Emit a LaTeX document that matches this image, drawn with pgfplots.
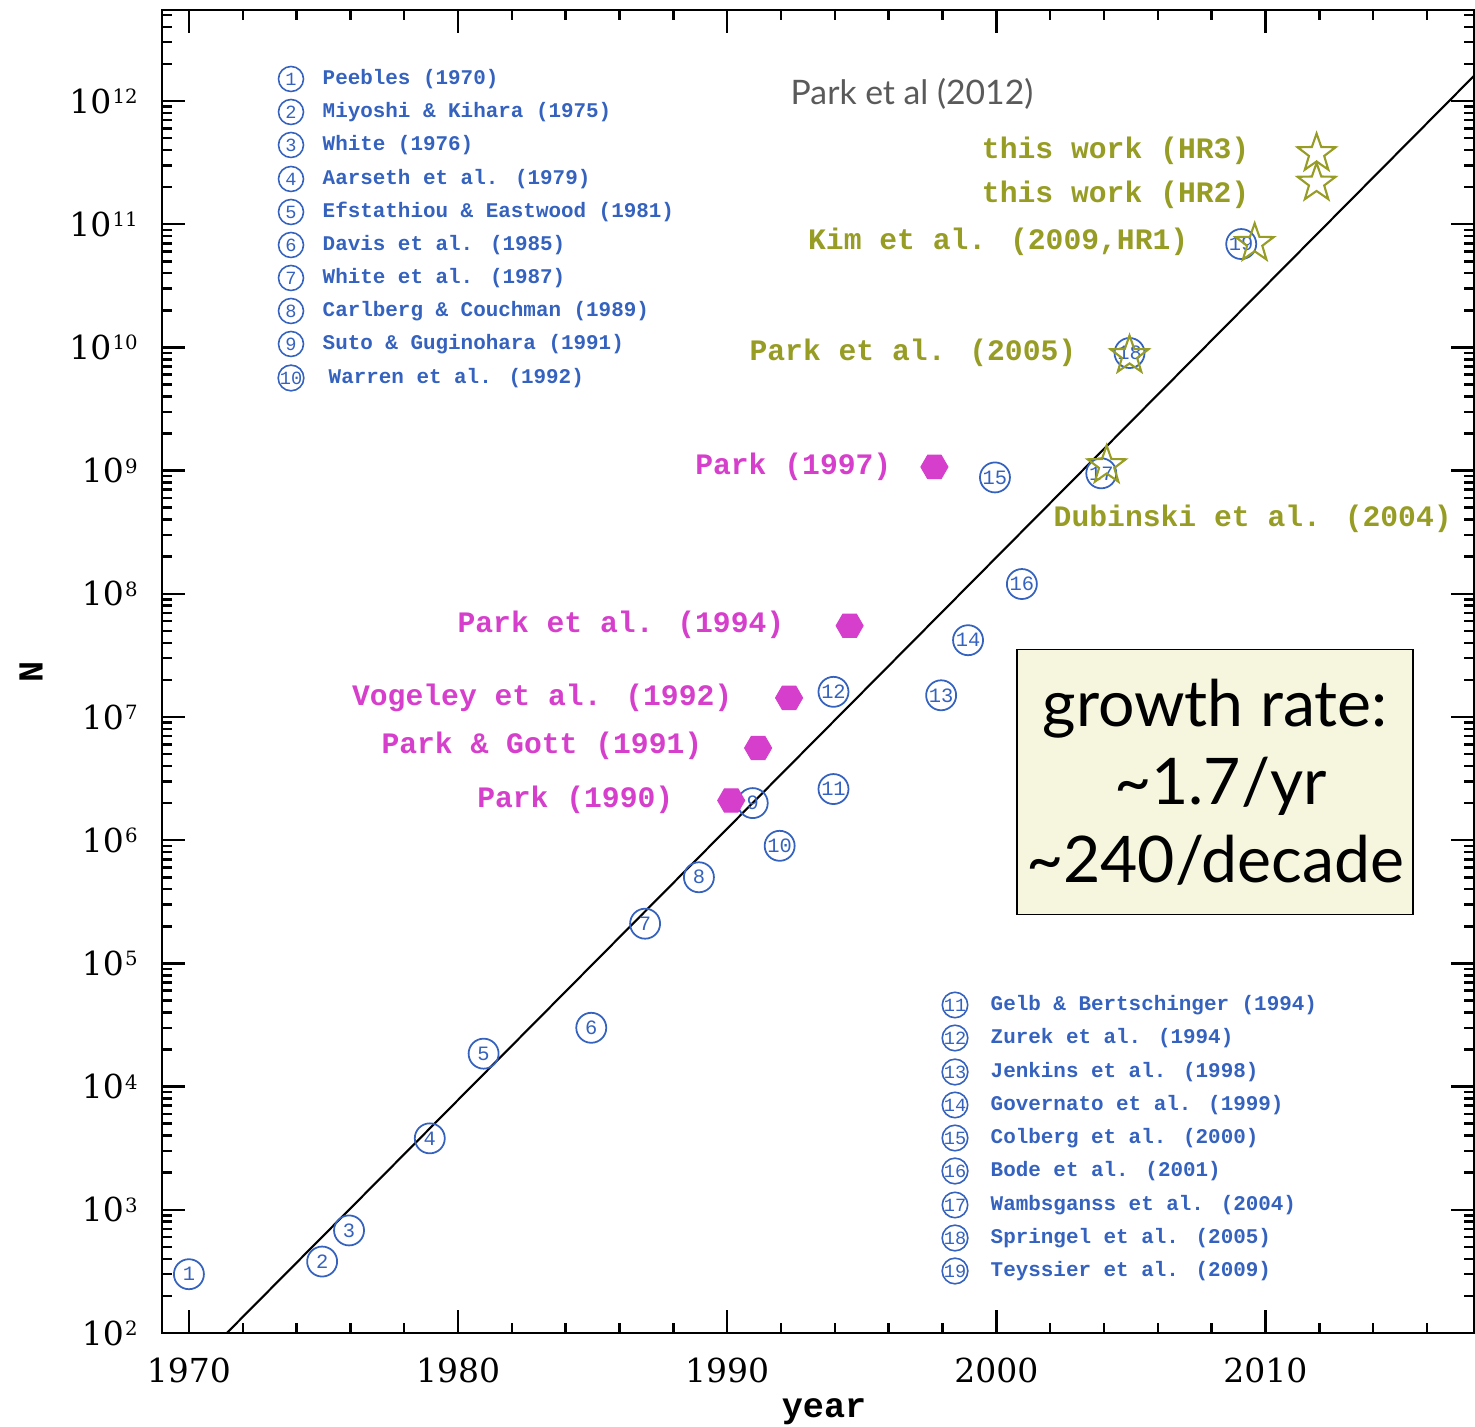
\documentclass[border=0pt]{standalone}
\usepackage{fontspec}
\usepackage{pgfplots}
\usepackage{pgfplotstable}
\pgfplotsset{compat=1.18}
\setmainfont{Liberation Serif}
\newfontfamily\tickfont{DejaVu Serif}
\newfontfamily\monofont{Liberation Mono}
\newfontfamily\sansfont{Lato}

\definecolor{simblue}{RGB}{52,98,190}
\definecolor{parkmag}{RGB}{214,62,204}
\definecolor{hrolive}{RGB}{150,156,36}
\definecolor{boxfill}{RGB}{246,246,222}
\definecolor{credit}{RGB}{90,90,90}

% filled hexagon (flat top and bottom)
\pgfdeclareplotmark{hexagon}{%
  \pgfpathmoveto{\pgfpointpolar{0}{\pgfplotmarksize}}%
  \pgfpathlineto{\pgfpointpolar{60}{\pgfplotmarksize}}%
  \pgfpathlineto{\pgfpointpolar{120}{\pgfplotmarksize}}%
  \pgfpathlineto{\pgfpointpolar{180}{\pgfplotmarksize}}%
  \pgfpathlineto{\pgfpointpolar{240}{\pgfplotmarksize}}%
  \pgfpathlineto{\pgfpointpolar{300}{\pgfplotmarksize}}%
  \pgfpathclose
  \pgfusepathqfillstroke}

% open five-pointed star
\pgfdeclareplotmark{openstar}{%
  \pgfpathmoveto{\pgfpointpolar{90}{\pgfplotmarksize}}%
  \pgfpathlineto{\pgfpointpolar{126}{0.4\pgfplotmarksize}}%
  \pgfpathlineto{\pgfpointpolar{162}{\pgfplotmarksize}}%
  \pgfpathlineto{\pgfpointpolar{198}{0.4\pgfplotmarksize}}%
  \pgfpathlineto{\pgfpointpolar{234}{\pgfplotmarksize}}%
  \pgfpathlineto{\pgfpointpolar{270}{0.4\pgfplotmarksize}}%
  \pgfpathlineto{\pgfpointpolar{306}{\pgfplotmarksize}}%
  \pgfpathlineto{\pgfpointpolar{342}{0.4\pgfplotmarksize}}%
  \pgfpathlineto{\pgfpointpolar{18}{\pgfplotmarksize}}%
  \pgfpathlineto{\pgfpointpolar{54}{0.4\pgfplotmarksize}}%
  \pgfpathclose
  \pgfusepathqstroke}

% power-of-ten tick label
\newcommand\pw[1]{10\kern0.3pt\raisebox{2.7pt}{\fontsize{5.6}{6}\selectfont#1}}

% published simulations (circled numbers)
\pgfplotstableread{
year N id
1970.0 300 1
1974.95 380 2
1975.95 680 3
1978.95 3800 4
1980.95 1.85e4 5
1984.95 3.0e4 6
1986.95 2.1e5 7
1988.95 5.0e5 8
1990.95 2.0e6 9
1991.95 9.0e5 10
1993.95 2.6e6 11
1993.95 1.6e7 12
1997.95 1.5e7 13
1998.95 4.2e7 14
1999.95 8.8e8 15
2000.95 1.2e8 16
2003.9 9.5e8 17
2004.95 9.0e9 18
2009.1 6.9e10 19
}\simtable

% Park et al. simulations (hexagons)
\pgfplotstableread{
year N
1990.15 2.1e6
1991.15 5.6e6
1992.3 1.43e7
1994.55 5.5e7
1997.7 1.07e9
}\parktable

% Horizon Run and related runs (stars)
\pgfplotstableread{
year N
2004.1 1.1e9
2004.95 8.6e9
2009.6 7.0e10
2011.9 2.16e11
2011.9 3.75e11
}\hrtable

\begin{document}
\begin{tikzpicture}
\begin{axis}[
  at={(0,0)}, anchor=south west,
  scale only axis, width=131.2mm, height=132.3mm,
  xmin=1969, xmax=2017.75,
  ymode=log, ymin=100, ymax=5.48e12,
  axis line style={line width=0.8pt},
  tick style={black, line width=0.7pt},
  major tick length=2.3mm, minor tick length=1.0mm,
  xtick={1970,1980,1990,2000,2010},
  xticklabels={1970,1980,1990,2000,2010},
  minor xtick={1972,1974,...,2016},
  ytick={1e2,1e3,1e4,1e5,1e6,1e7,1e8,1e9,1e10,1e11,1e12},
  yticklabels={\pw{2},\pw{3},\pw{4},\pw{5},\pw{6},\pw{7},\pw{8},\pw{9},\pw{10},\pw{11},\pw{12}},
  minor ytick={2e2,3e2,4e2,5e2,6e2,7e2,8e2,9e2,
    2e3,3e3,4e3,5e3,6e3,7e3,8e3,9e3,
    2e4,3e4,4e4,5e4,6e4,7e4,8e4,9e4,
    2e5,3e5,4e5,5e5,6e5,7e5,8e5,9e5,
    2e6,3e6,4e6,5e6,6e6,7e6,8e6,9e6,
    2e7,3e7,4e7,5e7,6e7,7e7,8e7,9e7,
    2e8,3e8,4e8,5e8,6e8,7e8,8e8,9e8,
    2e9,3e9,4e9,5e9,6e9,7e9,8e9,9e9,
    2e10,3e10,4e10,5e10,6e10,7e10,8e10,9e10,
    2e11,3e11,4e11,5e11,6e11,7e11,8e11,9e11,
    2e12,3e12,4e12,5e12},
  tick label style={font=\tickfont\fontsize{9.4}{10}\selectfont},
  xticklabel style={yshift=-1.3mm},
  yticklabel style={xshift=-1.2mm},
  xlabel={year}, ylabel={N},
  label style={font=\monofont\bfseries\fontsize{10}{12}\selectfont},
  xlabel style={at={(axis description cs:0.5046,-0.0635)}, anchor=base},
  ylabel style={at={(axis description cs:-0.0998,0.4996)}, anchor=center},
]
% growth line: factor ~1.66 per year
\addplot[black, line width=0.6pt] coordinates {(1971.41,100) (2017.75,1.6e12)};

\addplot[only marks, mark=o, mark size=1.5mm, simblue,
  mark options={line width=0.5pt},
  nodes near coords, point meta=explicit symbolic,
  every node near coord/.append style={anchor=center, inner sep=0pt,
    text=simblue, font=\monofont\fontsize{5.8}{6}\selectfont}]
  table[x=year, y=N, meta=id] {\simtable};

\addplot[only marks, mark=hexagon, mark size=1.35mm,
  mark options={draw=parkmag, fill=parkmag, line width=0.3pt}]
  table[x=year, y=N] {\parktable};

\addplot[only marks, mark=openstar, mark size=2.0mm,
  mark options={draw=hrolive, line width=0.6pt}]
  table[x=year, y=N] {\hrtable};
\end{axis}

% annotations, positioned in 0.1 mm steps from the top-left corner
\begin{scope}[x=0.1mm, y=-0.1mm, shift={(-16.2mm,133.3mm)}]
  \tikzset{
    legcirc/.style={circle, draw=simblue, line width=0.45pt, minimum size=2.5mm,
      inner sep=0pt, text=simblue, font=\monofont\fontsize{5.3}{5}\selectfont},
    legtext/.style={anchor=west, inner sep=0pt, text=simblue,
      font=\monofont\bfseries\fontsize{5.95}{7}\selectfont},
    maglab/.style={inner sep=0pt, text=parkmag, font=\monofont\bfseries\fontsize{8.45}{10}\selectfont},
    olvlab/.style={inner sep=0pt, text=hrolive, font=\monofont\bfseries\fontsize{8.45}{10}\selectfont},
  }
  % key, upper left
  \node[legcirc] at (291,79) {1};    \node[legtext] at (322,79) {Peebles (1970)};
  \node[legcirc] at (291,112) {2};   \node[legtext] at (322,112) {Miyoshi \& Kihara (1975)};
  \node[legcirc] at (291,145) {3};   \node[legtext] at (322,145) {White (1976)};
  \node[legcirc] at (291,179) {4};   \node[legtext] at (322,179) {Aarseth et al. (1979)};
  \node[legcirc] at (291,212) {5};   \node[legtext] at (322,212) {Efstathiou \& Eastwood (1981)};
  \node[legcirc] at (291,245) {6};   \node[legtext] at (322,245) {Davis et al. (1985)};
  \node[legcirc] at (291,278) {7};   \node[legtext] at (322,278) {White et al. (1987)};
  \node[legcirc] at (291,311) {8};   \node[legtext] at (322,311) {Carlberg \& Couchman (1989)};
  \node[legcirc] at (291,344) {9};   \node[legtext] at (322,344) {Suto \& Guginohara (1991)};
  \node[legcirc] at (291,378) {10};  \node[legtext] at (328,378) {Warren et al. (1992)};
  % key, lower right
  \node[legcirc] at (955,1005) {11}; \node[legtext] at (990,1005) {Gelb \& Bertschinger (1994)};
  \node[legcirc] at (955,1038) {12}; \node[legtext] at (990,1038) {Zurek et al. (1994)};
  \node[legcirc] at (955,1072) {13}; \node[legtext] at (990,1072) {Jenkins et al. (1998)};
  \node[legcirc] at (955,1105) {14}; \node[legtext] at (990,1105) {Governato et al. (1999)};
  \node[legcirc] at (955,1138) {15}; \node[legtext] at (990,1138) {Colberg et al. (2000)};
  \node[legcirc] at (955,1171) {16}; \node[legtext] at (990,1171) {Bode et al. (2001)};
  \node[legcirc] at (955,1205) {17}; \node[legtext] at (990,1205) {Wambsganss et al. (2004)};
  \node[legcirc] at (955,1238) {18}; \node[legtext] at (990,1238) {Springel et al. (2005)};
  \node[legcirc] at (955,1271) {19}; \node[legtext] at (990,1271) {Teyssier et al. (2009)};

  % Park et al. runs
  \node[maglab, anchor=east] at (892,467) {Park (1997)};
  \node[maglab, anchor=east] at (785,625) {Park et al. (1994)};
  \node[maglab, anchor=east] at (733,698) {Vogeley et al. (1992)};
  \node[maglab, anchor=east] at (703,746) {Park \& Gott (1991)};
  \node[maglab, anchor=east] at (674,800) {Park (1990)};

  % star-marked runs
  \node[olvlab, anchor=west] at (1053,519) {Dubinski et al. (2004)};
  \node[olvlab, anchor=east] at (1077,353) {Park et al. (2005)};
  \node[olvlab, anchor=east] at (1189,242) {Kim et al. (2009,HR1)};
  \node[olvlab, anchor=east] at (1250,195) {this work (HR2)};
  \node[olvlab, anchor=east] at (1250,151) {this work (HR3)};

  \node[anchor=west, inner sep=0pt, text=credit, font=\sansfont\fontsize{9.6}{11}\selectfont]
    at (790,94) {Park et al (2012)};

  \node[draw=black, line width=0.55pt, fill=boxfill, minimum width=39.6mm,
    minimum height=26.5mm, align=center, inner sep=0pt,
    font=\sansfont\fontsize{18.3}{22.2}\selectfont]
    at (1215,782) {growth rate:\\ \,\textasciitilde1.7/yr\\ \textasciitilde240/decade};
\end{scope}

\pgfresetboundingbox
\path[use as bounding box] (-16.2mm,-9.4mm) rectangle (131.3mm,133.3mm);
\end{tikzpicture}
\end{document}
